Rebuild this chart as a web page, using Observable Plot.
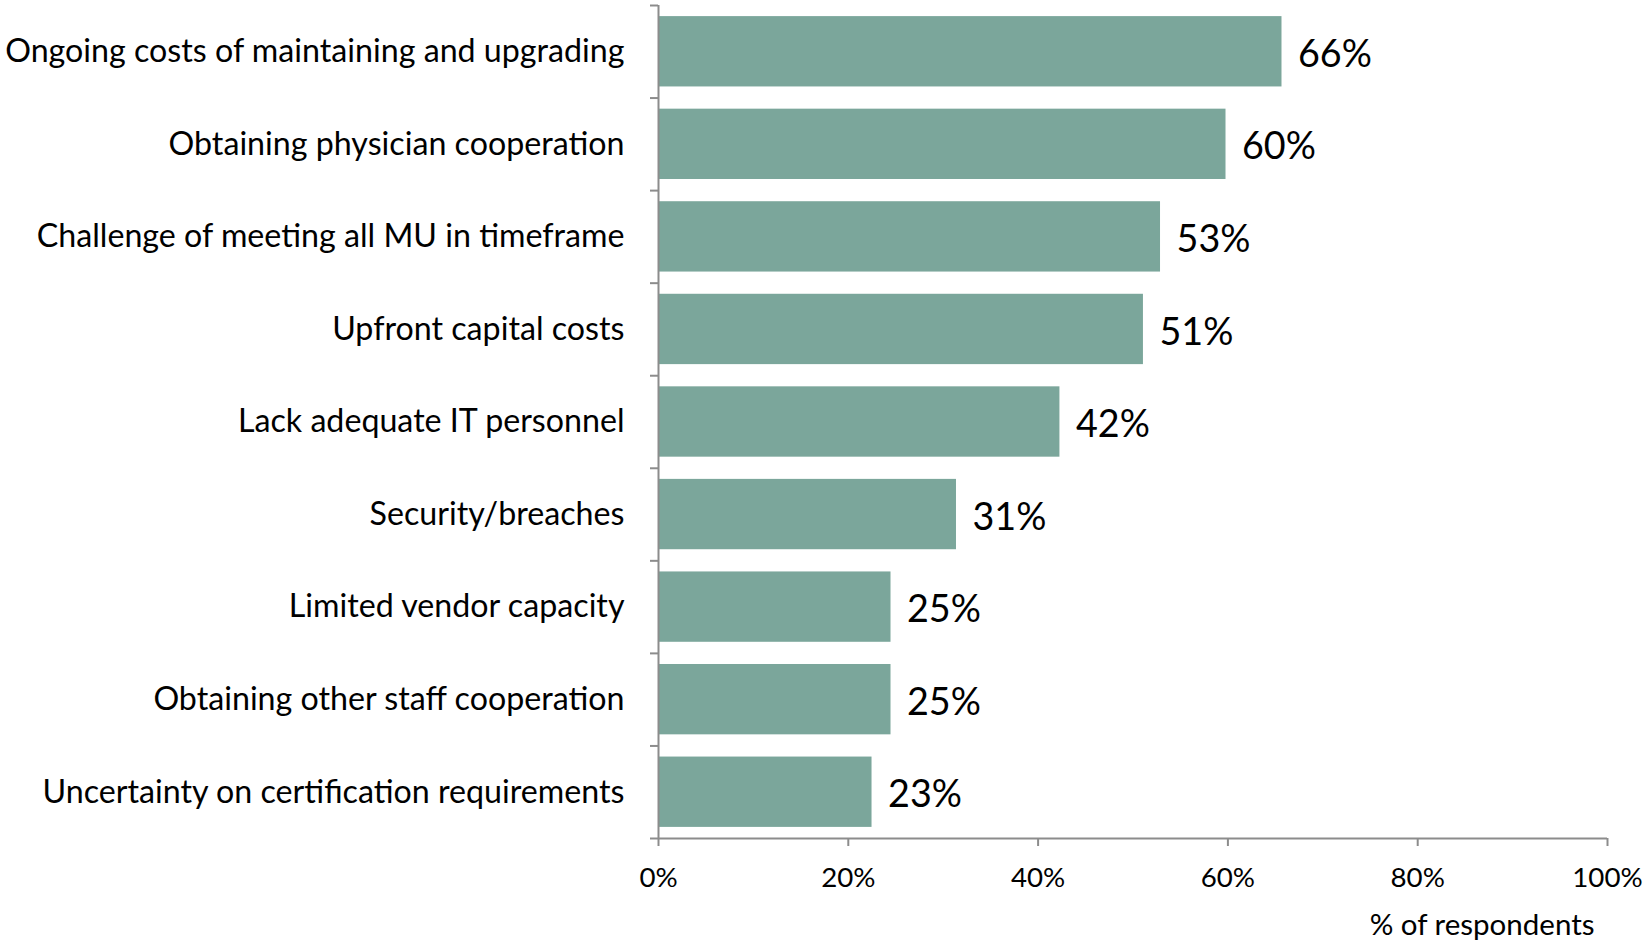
<!DOCTYPE html>
<html><head><meta charset="utf-8">
<script src="https://cdn.jsdelivr.net/npm/d3@7"></script>
<script src="https://cdn.jsdelivr.net/npm/@observablehq/plot@0.6"></script>
<style>body{margin:0;background:#fff}</style>
</head><body><div id="chart"></div>
<script>
const categories = [
  "Ongoing costs of maintaining and upgrading",
  "Obtaining physician cooperation",
  "Challenge of meeting all MU in timeframe",
  "Upfront capital costs",
  "Lack adequate IT personnel",
  "Security/breaches",
  "Limited vendor capacity",
  "Obtaining other staff cooperation",
  "Uncertainty on certification requirements"
];
const values = [0.657, 0.598, 0.529, 0.511, 0.423, 0.314, 0.245, 0.245, 0.225];
const valueLabels = ["66%", "60%", "53%", "51%", "42%", "31%", "25%", "25%", "23%"];
const xTicks = [0, 0.2, 0.4, 0.6, 0.8, 1.0];
const xTickLabels = ["0%", "20%", "40%", "60%", "80%", "100%"];
const axisTitle = "% of respondents";

const data = categories.map((c, i) => ({category: c, value: values[i], label: valueLabels[i], i}));
const W = 1648, H = 944, mt = 5, mb = 106, ml = 658, mr = 41;
const n = categories.length;
const step = (H - mt - mb) / n;
const inset = step * 0.12;
const gray = "#8c8c8c";
const font = "Lato";

const chart = Plot.plot({
  width: W, height: H,
  marginTop: mt, marginBottom: mb, marginLeft: ml, marginRight: mr,
  style: {fontFamily: font, color: "#000", background: "#fff"},
  x: {domain: [0, 1], axis: null, label: null},
  y: {domain: [0, n], reverse: true, axis: null, label: null},
  marks: [
    Plot.rect(data, {x1: () => 0, x2: "value", y1: d => d.i, y2: d => d.i + 1, insetTop: inset, insetBottom: inset, fill: "#7ba69b"}),
    Plot.axisY({ticks: d3.range(n + 1), tickFormat: () => "", tickSize: 8, stroke: gray, strokeWidth: 2, label: null}),
    Plot.ruleX([0], {stroke: gray, strokeWidth: 2}),
    Plot.ruleY([n], {x1: 0, x2: 1, stroke: gray, strokeWidth: 2}),
    Plot.axisX({ticks: xTicks, tickFormat: (d, i) => xTickLabels[i], tickSize: 8, tickPadding: 21, stroke: gray, strokeWidth: 2, fill: "#000", fontSize: 27.7, label: null}),
    Plot.text(data, {x: 0, y: d => d.i + 0.5, text: "category", textAnchor: "end", dx: -34, fontSize: 32.2, fill: "#000"}),
    Plot.text(data, {x: "value", y: d => d.i + 0.5, text: "label", textAnchor: "start", dx: 16, dy: 3, fontSize: 37.7, fill: "#000"}),
    Plot.text([axisTitle], {x: 1, y: n, text: d => d, textAnchor: "end", dx: -13, dy: 87, fontSize: 29.5, fill: "#000"})
  ]
});
document.getElementById("chart").appendChild(chart);
</script>
</body></html>
